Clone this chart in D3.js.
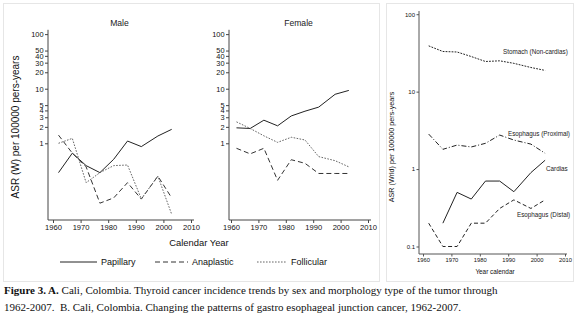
<!DOCTYPE html>
<html>
<head>
<meta charset="utf-8">
<script src="https://cdn.jsdelivr.net/npm/d3@7"></script>
<style>
  body { margin: 0; background: #fff; }
  svg { font-family: "Liberation Sans", Arial, sans-serif; }
  .caption { font-family: "Liberation Serif", "Times New Roman", serif; font-size: 11px; fill: #111; white-space: pre; }
</style>
</head>
<body>
<div id="container"></div>
<script>
/* DATA */
const years = [1962, 1967, 1972, 1977, 1982, 1987, 1992, 1998, 2003];

// panel A - thyroid, ASR per 100000
const malePapillary   = [0.29, 0.66, 0.39, 0.29, 0.51, 1.1, 0.87, 1.36, 1.8];
const maleAnaplastic  = [1.41, 0.66, 0.37, 0.08, 0.1, 0.19, 0.095, 0.25, 0.1];
const maleFollicular  = [1.0, 1.23, 0.19, 0.29, 0.39, 0.4, 0.096, 0.25, 0.05];
const femalePapillary  = [1.92, 1.87, 2.65, 2.09, 3.17, 3.87, 4.6, 7.9, 9.3];
const femaleAnaplastic = [0.81, 0.64, 0.81, 0.21, 0.5, 0.43, 0.28, 0.28, 0.28];
const femaleFollicular = [2.47, 1.87, 1.37, 1.04, 1.29, 1.15, 0.57, 0.48, 0.37];

// panel B - gastro esophageal junction
const stomach  = [39, 33, 32.5, 28.4, 24.5, 25, 23.2, 20.5, 18.8];
const proximal = [2.83, 1.8, 2.04, 1.93, 2.15, 2.75, 2.37, 2.1, 1.6];
const cardias  = [null, 0.2, 0.5, 0.41, 0.7, 0.7, 0.51, 0.9, 1.3];
const distal   = [0.2, 0.1, 0.1, 0.2, 0.2, 0.31, 0.4, 0.31, 0.4];

const xTicks = [1960, 1970, 1980, 1990, 2000, 2010];
const yTicksA = [1, 2, 3, 4, 5, 10, 20, 30, 40, 50, 100];
const yTicksB = [0.1, 1, 10, 100];

const captionLines = [
  ["Figure 3. A.", " Cali, Colombia. Thyroid cancer incidence trends by sex and morphology type of the tumor through"],
  ["", "1962-2007.  B. Cali, Colombia. Changing the patterns of gastro esophageal junction cancer, 1962-2007."]
];

/* CONSTANTS */
const width = 576, height = 324;

const svg = d3.select("#container")
  .append("svg")
  .attr("width", width)
  .attr("height", height);

// panel frames
svg.append("rect").attr("x", 3.5).attr("y", 3.5).attr("width", 376).attr("height", 278)
  .attr("fill", "none").attr("stroke", "#e6e6e6");
svg.append("rect").attr("x", 386.5).attr("y", 3.5).attr("width", 187).attr("height", 278)
  .attr("fill", "none").attr("stroke", "#e6e6e6");

/* PANEL A */
const yA = d3.scaleLog().domain([0.04, 120]).range([219.6, 29.8]);

function thyroidPanel(x0, x1, axisX, title, series) {
  const x = d3.scaleLinear().domain([1960, 2010]).range([x0, x1]);

  const yAxis = d3.axisLeft(yA).tickValues(yTicksA).tickFormat(d3.format("d")).tickSize(3).tickPadding(1.5);
  const gy = svg.append("g").attr("transform", `translate(${axisX},0)`).call(yAxis);
  gy.select(".domain").remove();
  gy.append("line").attr("y1", 29.8).attr("y2", 220).attr("stroke", "#444");
  gy.selectAll("text").attr("font-size", 7.4).attr("fill", "#111").attr("font-family", null);
  gy.selectAll(".tick line").attr("stroke", "#444");

  const xAxis = d3.axisBottom(x).tickValues(xTicks).tickFormat(d3.format("d")).tickSize(3).tickPadding(2);
  const gx = svg.append("g").attr("transform", `translate(0,220)`).call(xAxis);
  gx.select(".domain").remove();
  gx.append("line").attr("x1", axisX).attr("x2", x1 + 3).attr("stroke", "#444");
  gx.selectAll("text").attr("font-size", 7.6).attr("fill", "#111").attr("font-family", null);
  gx.selectAll(".tick line").attr("stroke", "#444");

  svg.append("text")
    .attr("x", (axisX + x1) / 2).attr("y", 26)
    .attr("text-anchor", "middle").attr("font-size", 8.6).attr("fill", "#222")
    .text(title);

  const line = d3.line()
    .defined(d => d != null)
    .x((d, i) => x(years[i]))
    .y(d => yA(d));

  series.forEach(s => {
    svg.append("path")
      .attr("d", line(s.values))
      .attr("fill", "none")
      .attr("stroke", s.color)
      .attr("stroke-width", 1)
      .attr("stroke-dasharray", s.dash);
  });
}

const styles = {
  papillary:  { color: "#222", dash: null },
  anaplastic: { color: "#333", dash: "5,3" },
  follicular: { color: "#666", dash: "1.6,1.4" }
};

thyroidPanel(53, 191, 48, "Male", [
  { values: malePapillary, ...styles.papillary },
  { values: maleAnaplastic, ...styles.anaplastic },
  { values: maleFollicular, ...styles.follicular }
]);
thyroidPanel(231, 368, 229, "Female", [
  { values: femalePapillary, ...styles.papillary },
  { values: femaleAnaplastic, ...styles.anaplastic },
  { values: femaleFollicular, ...styles.follicular }
]);

// y-axis label
svg.append("text")
  .attr("text-anchor", "middle")
  .attr("transform", "rotate(-90)")
  .attr("x", -127).attr("y", 18.5)
  .attr("font-size", 10).attr("fill", "#111")
  .text("ASR (W) per 100000 pers-years");

// x-axis label
svg.append("text")
  .attr("text-anchor", "middle")
  .attr("x", 199).attr("y", 246)
  .attr("font-size", 9.4).attr("fill", "#111")
  .text("Calendar Year");

// legend
const legend = [
  { name: "Papillary", x: 60, w: 37, ...styles.papillary },
  { name: "Anaplastic", x: 155, w: 33, ...styles.anaplastic },
  { name: "Follicular", x: 257, w: 30, ...styles.follicular }
];
legend.forEach(d => {
  svg.append("line")
    .attr("x1", d.x).attr("x2", d.x + d.w).attr("y1", 262).attr("y2", 262)
    .attr("stroke", d.color).attr("stroke-dasharray", d.dash);
  svg.append("text")
    .attr("x", d.x + d.w + 4).attr("y", 265.2)
    .attr("font-size", 9).attr("fill", "#111")
    .text(d.name);
});

/* PANEL B */
const xB = d3.scaleLinear().domain([1960, 2010]).range([423, 565]);
const yB = d3.scaleLog().domain([0.08, 110]).range([254, 11]);

const gyB = svg.append("g").attr("transform", "translate(419,0)")
  .call(d3.axisLeft(yB).tickValues(yTicksB).tickFormat(d => d === 0.1 ? "0.1" : d3.format("d")(d)).tickSize(2.5).tickPadding(1.5));
gyB.select(".domain").remove();
gyB.append("line").attr("y1", 11).attr("y2", 254).attr("stroke", "#555");
gyB.selectAll("text").attr("font-size", 6).attr("fill", "#111").attr("font-family", null);
gyB.selectAll(".tick line").attr("stroke", "#555");

const gxB = svg.append("g").attr("transform", "translate(0,254)")
  .call(d3.axisBottom(xB).tickValues(xTicks).tickFormat(d3.format("d")).tickSize(2.5).tickPadding(1.5));
gxB.select(".domain").remove();
gxB.append("line").attr("x1", 419).attr("x2", 567).attr("stroke", "#555");
gxB.selectAll("text").attr("font-size", 5.8).attr("fill", "#111").attr("font-family", null);
gxB.selectAll(".tick line").attr("stroke", "#555");

svg.append("text")
  .attr("text-anchor", "middle")
  .attr("transform", "rotate(-90)")
  .attr("x", -147).attr("y", 394)
  .attr("font-size", 7.2).attr("fill", "#111")
  .text("ASR (Wrld) per 100000 pers-years");

svg.append("text")
  .attr("text-anchor", "middle")
  .attr("x", 495).attr("y", 274)
  .attr("font-size", 6.4).attr("fill", "#111")
  .text("Year calendar");

const lineB = d3.line()
  .defined(d => d != null)
  .x((d, i) => xB(years[i]))
  .y(d => yB(d));

const seriesB = [
  { name: "Stomach (Non-cardias)", values: stomach, dash: "1.8,1.2", lx: 503, ly: 54 },
  { name: "Esophagus (Proximal)", values: proximal, dash: "5,2,1,2", lx: 508, ly: 136 },
  { name: "Cardias", values: cardias, dash: null, lx: 546, ly: 171 },
  { name: "Esophagus (Distal)", values: distal, dash: "4,2.5", lx: 517, ly: 217 }
];

seriesB.forEach(s => {
  svg.append("path")
    .attr("d", lineB(s.values))
    .attr("fill", "none")
    .attr("stroke", "#222")
    .attr("stroke-width", 1)
    .attr("stroke-dasharray", s.dash);
  svg.append("text")
    .attr("x", s.lx).attr("y", s.ly)
    .attr("font-size", 6.3).attr("fill", "#222")
    .text(s.name);
});

/* CAPTION */
captionLines.forEach((l, i) => {
  const t = svg.append("text").attr("class", "caption")
    .attr("x", 4).attr("y", 294 + i * 16.5);
  if (l[0]) t.append("tspan").attr("font-weight", "bold").text(l[0]);
  t.append("tspan").text(l[1]);
});
</script>
</body>
</html>
